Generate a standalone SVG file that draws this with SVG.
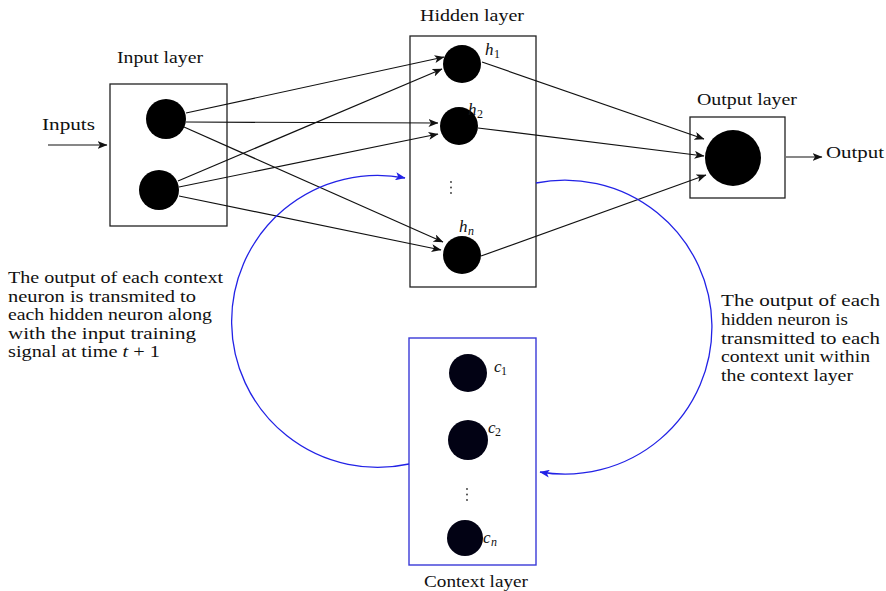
<svg xmlns="http://www.w3.org/2000/svg" width="886" height="591" viewBox="0 0 886 591">
<style>
text{font-family:"Liberation Serif","DejaVu Serif",serif;font-size:17px;fill:#111}
.it{font-style:italic}
.sub{font-size:12px;font-style:normal}
.box{fill:none;stroke:#222;stroke-width:1.3}
.cbox{fill:none;stroke:#3a3ad8;stroke-width:1.4}
.n{fill:#000}
.cn{fill:#020214}
.e{fill:none;stroke:#111;stroke-width:1.2;marker-end:url(#ah)}
.b{fill:none;stroke:#2222e6;stroke-width:1.3}
</style>
<defs>
<marker id="ah" viewBox="0 0 10 8" refX="9.5" refY="4" markerWidth="10" markerHeight="8" markerUnits="userSpaceOnUse" orient="auto">
<path d="M0,0 L10,4 L0,8 L2.5,4 Z" fill="#111"/>
</marker>
<marker id="bh" viewBox="0 0 10 8" refX="9.5" refY="4" markerWidth="10" markerHeight="8" markerUnits="userSpaceOnUse" orient="auto">
<path d="M0,0 L10,4 L0,8 L2.5,4 Z" fill="#2222e6"/>
</marker>
</defs>

<g id="input-layer">
<rect class="box" x="110" y="84" width="117" height="142"/>
<circle class="n" cx="166" cy="119" r="20"/>
<circle class="n" cx="159" cy="190" r="20"/>
<text x="117" y="63" textLength="86" lengthAdjust="spacingAndGlyphs">Input layer</text>
</g>

<g id="inputs-label">
<text x="42" y="130" textLength="53" lengthAdjust="spacingAndGlyphs">Inputs</text>
</g>

<g id="hidden-layer">
<rect class="box" x="410" y="36" width="126" height="251"/>
<circle class="n" cx="462" cy="64" r="19"/>
<circle class="n" cx="459" cy="126" r="19"/>
<circle class="n" cx="462" cy="255" r="19"/>
<circle cx="451" cy="182" r="0.9" fill="#333"/>
<circle cx="451" cy="187.5" r="0.9" fill="#333"/>
<circle cx="451" cy="193" r="0.9" fill="#333"/>
<text x="485" y="55" class="it">h</text><text x="494" y="58" class="sub">1</text>
<text x="468" y="115" class="it">h</text><text x="477" y="118" class="sub">2</text>
<text x="459" y="232" class="it">h</text><text x="468" y="235" class="sub it" style="font-style:italic">n</text>
<text x="420" y="21" textLength="104" lengthAdjust="spacingAndGlyphs">Hidden layer</text>
</g>

<g id="output-layer">
<rect class="box" x="690" y="117" width="95" height="81"/>
<circle class="n" cx="733" cy="158" r="28"/>
<text x="697" y="105" textLength="100" lengthAdjust="spacingAndGlyphs">Output layer</text>
</g>

<g id="output-label">
<text x="826" y="158" textLength="58" lengthAdjust="spacingAndGlyphs">Output</text>
</g>

<g id="context-layer">
<rect class="cbox" x="409" y="338" width="127" height="227"/>
<circle class="cn" cx="468" cy="373" r="19"/>
<circle class="cn" cx="468" cy="440" r="20"/>
<circle class="cn" cx="465" cy="538" r="18"/>
<circle cx="467" cy="489" r="0.9" fill="#333"/>
<circle cx="467" cy="494.5" r="0.9" fill="#333"/>
<circle cx="467" cy="500" r="0.9" fill="#333"/>
<text x="494" y="372" class="it">c</text><text x="501" y="375" class="sub">1</text>
<text x="488" y="433" class="it">c</text><text x="495" y="436" class="sub">2</text>
<text x="483" y="543" class="it">c</text><text x="491" y="546" class="sub" style="font-style:italic">n</text>
<text x="424" y="587" textLength="104" lengthAdjust="spacingAndGlyphs">Context layer</text>
</g>

<g id="note-left">
<text x="8" y="283" textLength="215" lengthAdjust="spacingAndGlyphs">The output of each context</text>
<text x="8" y="302" textLength="188" lengthAdjust="spacingAndGlyphs">neuron is transmited to</text>
<text x="8" y="320" textLength="204" lengthAdjust="spacingAndGlyphs">each hidden neuron along</text>
<text x="8" y="339" textLength="188" lengthAdjust="spacingAndGlyphs">with the input training</text>
<text x="8" y="357" textLength="152" lengthAdjust="spacingAndGlyphs">signal at time <tspan class="it">t</tspan> + 1</text>
</g>

<g id="note-right">
<text x="721" y="306" textLength="159" lengthAdjust="spacingAndGlyphs">The output of each</text>
<text x="721" y="325" textLength="127" lengthAdjust="spacingAndGlyphs">hidden neuron is</text>
<text x="721" y="344" textLength="159" lengthAdjust="spacingAndGlyphs">transmitted to each</text>
<text x="721" y="362" textLength="149" lengthAdjust="spacingAndGlyphs">context unit within</text>
<text x="721" y="381" textLength="132" lengthAdjust="spacingAndGlyphs">the context layer</text>
</g>

<g id="connectors">
<path class="e" d="M48,145 L107,145"/>
<path class="e" d="M186,113 L444,57"/>
<path class="e" d="M178,181 L442,69"/>
<path class="e" d="M186,122 L438,123"/>
<path class="e" d="M179,187 L438,134"/>
<path class="e" d="M184,127 L443,242"/>
<path class="e" d="M179,196 L441,250"/>
<path class="e" d="M482,62 L704,139"/>
<path class="e" d="M478,128 L704,156"/>
<path class="e" d="M481,256 L706,175"/>
<path class="e" d="M786,157 L822,157"/>
<path class="b" marker-end="url(#bh)" d="M409,464 A146,146 0 1 1 405,178"/>
<path class="b" marker-end="url(#bh)" d="M536,183 A147,147 0 1 1 540,472"/>
</g>
</svg>
